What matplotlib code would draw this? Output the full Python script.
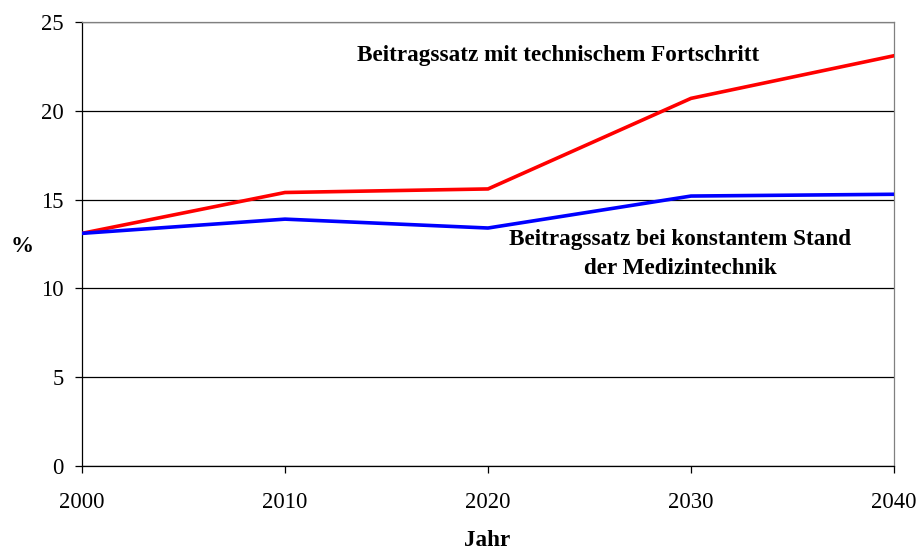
import matplotlib
matplotlib.use("Agg")
import matplotlib.pyplot as plt

years = [2000, 2010, 2020, 2030, 2040]
red_vals = [13.1, 15.4, 15.6, 20.7, 23.1]
blue_vals = [13.1, 13.9, 13.4, 15.2, 15.3]
y_ticks = [0, 5, 10, 15, 20, 25]
red_label = "Beitragssatz mit technischem Fortschritt"
blue_label = "Beitragssatz bei konstantem Stand\nder Medizintechnik"

plt.rcParams['font.family'] = ['Liberation Serif', 'DejaVu Serif']

fig = plt.figure(figsize=(9.21, 5.54), dpi=100)
ax = fig.add_axes([82/921, 88/554, (894-82)/921, (466-22)/554])

ax.plot(years, red_vals, color='#ff0000', lw=2.6, solid_joinstyle='miter', zorder=3)
ax.plot(years, blue_vals, color='#0000ff', lw=2.6, solid_joinstyle='miter', zorder=3)

ax.set_xlim(2000, 2040)
ax.set_ylim(0, 25)
ax.set_xticks(years)
ax.set_yticks(y_ticks)
ax.yaxis.grid(True, color='black', lw=0.9)
ax.set_axisbelow(True)
ax.tick_params(axis='both', labelsize=16.3, direction='out', length=5, width=0.9, color='black')
ax.tick_params(axis='x', pad=14)
ax.tick_params(axis='y', pad=8)

for s in ['top', 'right']:
    ax.spines[s].set_color('#808080')
    ax.spines[s].set_linewidth(0.9)
for s in ['left', 'bottom']:
    ax.spines[s].set_color('black')
    ax.spines[s].set_linewidth(0.9)

ax.text(487/921, 1 - 541/554, "Jahr", transform=fig.transFigure, fontsize=16.7,
        fontweight='bold', ha='center', va='center')
ax.text(22/921, 1 - 246/554, "%", transform=fig.transFigure, fontsize=16.7,
        fontweight='bold', ha='center', va='center')

ax.text(558/921, 1 - 55/554, red_label, transform=fig.transFigure, fontsize=16.7,
        fontweight='bold', ha='center', va='center')
ax.text(680/921, 1 - 254/554, blue_label, transform=fig.transFigure, fontsize=16.7,
        fontweight='bold', ha='center', va='center', linespacing=1.5)

fig.savefig("out.png", dpi=100)
